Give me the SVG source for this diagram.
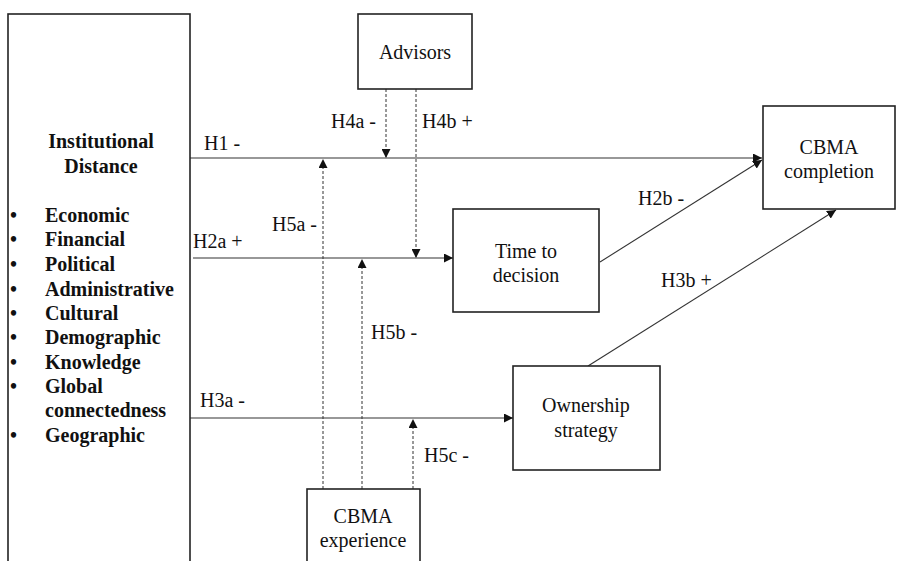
<svg xmlns="http://www.w3.org/2000/svg" width="897" height="561" viewBox="0 0 897 561">
<style>
.box{fill:#fff;stroke:#222;stroke-width:1.6}
.t{font-family:"Liberation Serif","Times New Roman",serif;font-size:20px;fill:#111}
.b{font-weight:bold}
.m{text-anchor:middle}
.ln{stroke:#333;stroke-width:1.1;fill:none}
.dl{stroke:#333;stroke-width:1;stroke-dasharray:3,2;fill:none}
</style>
<defs>
<marker id="ah" viewBox="0 0 10 10" refX="10" refY="5" markerWidth="9" markerHeight="9" markerUnits="userSpaceOnUse" orient="auto">
<path d="M0,0 L10,5 L0,10 z" fill="#111"/>
</marker>
</defs>
<rect width="897" height="561" fill="#fff"/>
<g id="connectors">
<line class="ln" x1="190" y1="158" x2="762" y2="158" marker-end="url(#ah)"/>
<line class="ln" x1="193" y1="258" x2="453" y2="258" marker-end="url(#ah)"/>
<line class="ln" x1="190" y1="418" x2="513" y2="418" marker-end="url(#ah)"/>
<line class="ln" x1="600" y1="262" x2="762" y2="160" marker-end="url(#ah)"/>
<line class="ln" x1="588" y1="366" x2="836" y2="210" marker-end="url(#ah)"/>
<line class="dl" x1="386" y1="89" x2="386" y2="158" marker-end="url(#ah)"/>
<line class="dl" x1="416" y1="89" x2="416" y2="258" marker-end="url(#ah)"/>
<line class="dl" x1="323" y1="489" x2="323" y2="159" marker-end="url(#ah)"/>
<line class="dl" x1="362" y1="489" x2="362" y2="259" marker-end="url(#ah)"/>
<line class="dl" x1="413" y1="489" x2="413" y2="419" marker-end="url(#ah)"/>
<text class="t" x="204" y="150">H1 -</text>
<text class="t" x="193" y="248">H2a +</text>
<text class="t" x="272" y="231">H5a -</text>
<text class="t" x="331" y="128">H4a -</text>
<text class="t" x="422" y="128">H4b +</text>
<text class="t" x="638" y="205">H2b -</text>
<text class="t" x="661" y="287">H3b +</text>
<text class="t" x="371" y="339">H5b -</text>
<text class="t" x="424" y="462">H5c -</text>
<text class="t" x="200" y="407">H3a -</text>
</g>
<g id="institutional-distance">
<rect class="box" x="8" y="14" width="182" height="560"/>
<text class="t b m" x="101" y="148">Institutional</text>
<text class="t b m" x="101" y="173">Distance</text>
<g class="t b">
<text x="10" y="222">•</text><text x="45" y="222">Economic</text>
<text x="10" y="246">•</text><text x="45" y="246">Financial</text>
<text x="10" y="271">•</text><text x="45" y="271">Political</text>
<text x="10" y="296">•</text><text x="45" y="296">Administrative</text>
<text x="10" y="320">•</text><text x="45" y="320">Cultural</text>
<text x="10" y="344">•</text><text x="45" y="344">Demographic</text>
<text x="10" y="369">•</text><text x="45" y="369">Knowledge</text>
<text x="10" y="393">•</text><text x="45" y="393">Global</text>
<text x="45" y="417">connectedness</text>
<text x="10" y="442">•</text><text x="45" y="442">Geographic</text>
</g>
</g>
<g id="advisors">
<rect class="box" x="358" y="14" width="114" height="75"/>
<text class="t m" x="415" y="59">Advisors</text>
</g>
<g id="cbma-completion">
<rect class="box" x="763" y="106" width="132" height="103"/>
<text class="t m" x="829" y="154">CBMA</text>
<text class="t m" x="829" y="178">completion</text>
</g>
<g id="time-to-decision">
<rect class="box" x="453" y="209" width="146" height="103"/>
<text class="t m" x="526" y="258">Time to</text>
<text class="t m" x="526" y="282">decision</text>
</g>
<g id="ownership-strategy">
<rect class="box" x="513" y="366" width="147" height="104"/>
<text class="t m" x="586" y="412">Ownership</text>
<text class="t m" x="586" y="437">strategy</text>
</g>
<g id="cbma-experience">
<rect class="box" x="307" y="489" width="113" height="90"/>
<text class="t m" x="363" y="523">CBMA</text>
<text class="t m" x="363" y="547">experience</text>
</g>
</svg>
